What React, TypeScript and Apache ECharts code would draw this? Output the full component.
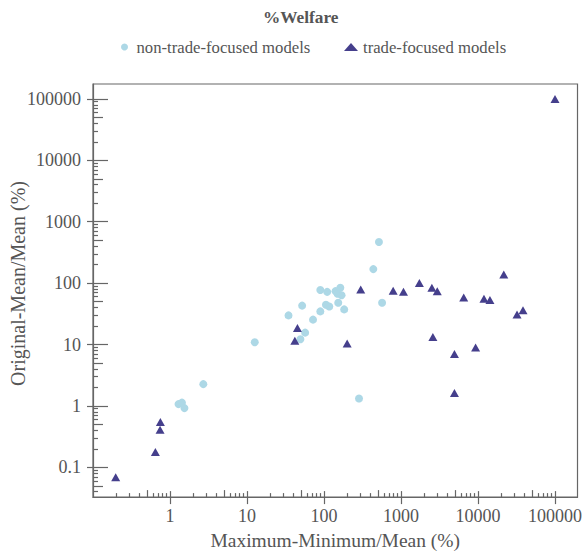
import React, { useEffect, useRef } from "react";
import * as echarts from "echarts";

// non-trade-focused models: [Maximum-Minimum/Mean (%), Original-Mean/Mean (%)]
const nonTradeX = [1.29, 1.43, 1.54, 2.71, 12.6, 49.4, 56.9, 72, 34.6, 89.6, 52, 106, 117, 153, 183, 89.6, 110, 141, 147, 150, 163, 169, 437, 517, 568, 285];
const nonTradeY = [1.07, 1.13, 0.92, 2.26, 10.9, 12.2, 15.6, 25.4, 29.8, 34.6, 43, 44.5, 41.7, 48, 37.3, 77, 72, 74, 71.3, 67, 84, 63.6, 169, 466, 48, 1.32];

// trade-focused models
const tradeX = [0.197, 0.646, 0.743, 0.75, 41.8, 45.2, 200, 300, 791, 1077, 1733, 2518, 2957, 2596, 4940, 4940, 6520, 9310, 11950, 14280, 21600, 32100, 38400, 100000];
const tradeY = [0.0686, 0.177, 0.41, 0.545, 11.5, 18.5, 10.4, 79, 75, 72, 100, 84, 74, 13.2, 6.98, 1.62, 58.5, 8.97, 55.7, 52.9, 138, 30.9, 36.3, 100000];

const xTickLabels = [1, 10, 100, 1000, 10000, 100000];
const yTickLabels = [0.1, 1, 10, 100, 1000, 10000, 100000];
const decades = [0.01, 0.1, 1, 10, 100, 1000, 10000, 100000];
const minorMultipliers = [2, 3, 4, 6, 7, 8, 9];
const fiveMultipliers = [5];

const xMin = 0.1;
const xMax = 196000;
const yMin = 0.0327;
const yMax = 175000;

const seriesNames = ["non-trade-focused models", "trade-focused models"];

const FONT = "Liberation Serif";
const TEXT = "#555555";
const LINE = "#666666";

function tickValues(mults: number[]): number[] {
  const out: number[] = [];
  decades.forEach((d) => mults.forEach((m) => out.push(Number((d * m).toPrecision(6)))));
  return out;
}

function fmt(v: number): string {
  return String(Number(v.toPrecision(6)));
}

export default function App() {
  const ref = useRef<HTMLDivElement>(null);
  useEffect(() => {
    if (!ref.current) return;
    const chart = echarts.init(ref.current, undefined, { renderer: "svg" });
    const minorVals = tickValues(minorMultipliers);
    const fiveVals = tickValues(fiveMultipliers);
    const tickLine = { color: LINE, width: 1.2 };

    const makeAxis = (
      min: number,
      max: number,
      position: string,
      values: number[],
      inside: boolean,
      length: number,
      main: boolean,
      extra: any = {}
    ) => ({
      type: "log",
      logBase: 10,
      min,
      max,
      position,
      axisLine: { show: main, lineStyle: { color: LINE, width: 1.2 } },
      axisTick: { show: true, inside, length, customValues: values, lineStyle: tickLine },
      axisLabel: main
        ? {
            show: true,
            customValues: values,
            formatter: (v: number) => fmt(v),
            fontFamily: FONT,
            fontSize: 18,
            color: TEXT,
            ...(extra.label || {}),
          }
        : { show: false },
      splitLine: { show: false },
      minorTick: { show: false },
      ...(extra.axis || {}),
    });

    const option: any = {
      animation: false,
      textStyle: { fontFamily: FONT, color: TEXT },
      title: {
        text: "%Welfare",
        left: 263,
        top: 7,
        padding: 0,
        textStyle: { fontFamily: FONT, fontSize: 17.3, fontWeight: "bold", color: TEXT, lineHeight: 20 },
      },
      legend: [
        {
          data: [seriesNames[0]],
          left: 121,
          top: 37,
          padding: 0,
          icon: "circle",
          itemWidth: 14,
          itemHeight: 7,
          textStyle: { fontFamily: FONT, fontSize: 16.7, color: TEXT, lineHeight: 20 },
        },
        {
          data: [seriesNames[1]],
          left: 344,
          top: 37,
          padding: 0,
          icon: "triangle",
          itemWidth: 14,
          itemHeight: 8,
          textStyle: { fontFamily: FONT, fontSize: 16.7, color: TEXT, lineHeight: 20 },
        },
      ],
      grid: {
        left: 93,
        right: 4,
        top: 84,
        bottom: 57,
        show: true,
        borderColor: LINE,
        borderWidth: 1.2,
        backgroundColor: "transparent",
      },
      xAxis: [
        makeAxis(xMin, xMax, "bottom", xTickLabels, false, 7, true, {
          label: { margin: 10 },
          axis: {
            name: "Maximum-Minimum/Mean (%)",
            nameLocation: "middle",
            nameGap: 30,
            nameTextStyle: { fontFamily: FONT, fontSize: 19.5, color: TEXT },
          },
        }),
        makeAxis(xMin, xMax, "bottom", xTickLabels, true, 6, false),
        makeAxis(xMin, xMax, "bottom", minorVals, true, 4, false),
        makeAxis(xMin, xMax, "bottom", fiveVals, true, 7, false),
      ],
      yAxis: [
        makeAxis(yMin, yMax, "left", yTickLabels, false, 6, true, { label: { margin: 12 } }),
        makeAxis(yMin, yMax, "left", yTickLabels, true, 15, false),
        makeAxis(yMin, yMax, "left", minorVals, true, 5, false),
        makeAxis(yMin, yMax, "left", fiveVals, true, 10, false),
      ],
      graphic: [
        {
          type: "text",
          x: 18,
          y: 283.5,
          rotation: Math.PI / 2,
          style: {
            text: "Original-Mean/Mean (%)",
            font: `20px ${FONT}`,
            fill: TEXT,
            align: "center",
            verticalAlign: "middle",
          },
        },
      ],
      series: [
        {
          name: seriesNames[0],
          type: "scatter",
          symbol: "circle",
          symbolSize: 8,
          itemStyle: { color: "#add8e6", opacity: 1 },
          data: nonTradeX.map((x, i) => [x, nonTradeY[i]]),
        },
        {
          name: seriesNames[1],
          type: "scatter",
          symbol: "triangle",
          symbolSize: [9, 8],
          itemStyle: { color: "#453f8c", opacity: 1 },
          data: tradeX.map((x, i) => [x, tradeY[i]]),
        },
      ],
    };
    chart.setOption(option);
    return () => chart.dispose();
  }, []);
  return <div ref={ref} style={{ width: 585, height: 555, position: "absolute", left: 0, top: 0 }} />;
}
